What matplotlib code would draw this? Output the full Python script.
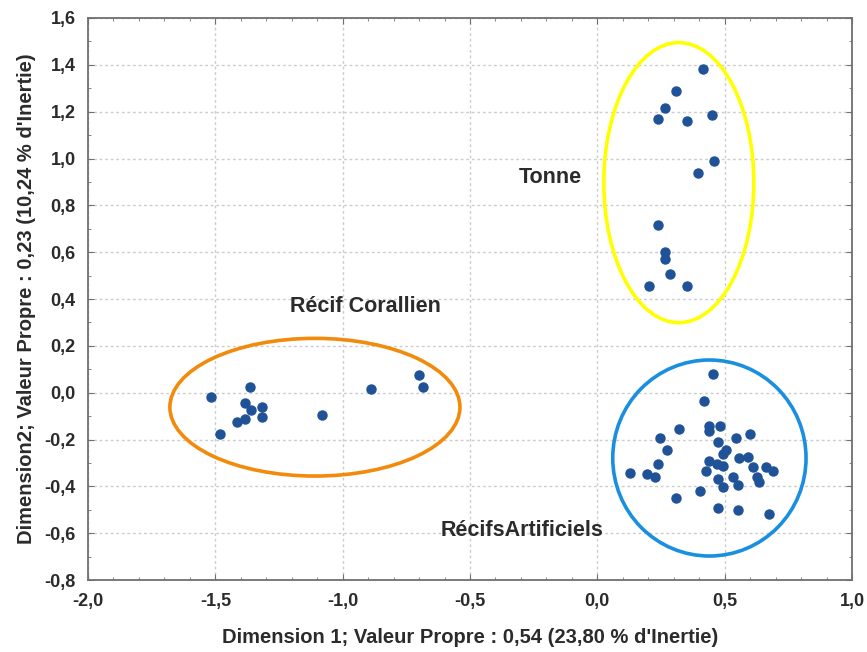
import matplotlib.pyplot as plt
from matplotlib.patches import Ellipse
from matplotlib.ticker import MultipleLocator, FuncFormatter

plt.rcParams['font.family'] = ['Liberation Sans', 'DejaVu Sans']

# coordonnees des stations
tonne_x = [0.413, 0.309, 0.267, 0.237, 0.354, 0.452, 0.460, 0.397, 0.237,
           0.265, 0.265, 0.287, 0.203, 0.354]
tonne_y = [1.381, 1.290, 1.216, 1.170, 1.162, 1.187, 0.991, 0.937, 0.717,
           0.601, 0.570, 0.507, 0.456, 0.456]

recif_x = [-1.518, -1.364, -1.385, -1.361, -1.316, -1.316, -1.385, -1.414,
           -1.482, -1.082, -0.890, -0.702, -0.686]
recif_y = [-0.020, 0.026, -0.043, -0.074, -0.062, -0.105, -0.114, -0.125,
           -0.176, -0.094, 0.017, 0.074, 0.026]

artif_x = [0.454, 0.419, 0.320, 0.438, 0.438, 0.481, 0.246, 0.472, 0.543,
           0.599, 0.273, 0.505, 0.492, 0.557, 0.592, 0.238, 0.439, 0.468,
           0.492, 0.612, 0.661, 0.691, 0.127, 0.196, 0.225, 0.426, 0.534,
           0.625, 0.634, 0.472, 0.493, 0.551, 0.405, 0.309, 0.472, 0.551,
           0.674]
artif_y = [0.080, -0.034, -0.154, -0.142, -0.165, -0.141, -0.192, -0.212,
           -0.192, -0.176, -0.245, -0.245, -0.263, -0.280, -0.273, -0.303,
           -0.290, -0.304, -0.313, -0.318, -0.318, -0.333, -0.341, -0.347,
           -0.361, -0.336, -0.358, -0.358, -0.381, -0.370, -0.401, -0.395,
           -0.418, -0.448, -0.491, -0.501, -0.517]

# groupes : (centre x, centre y, largeur, hauteur)
groupes = {
    'Tonne': (0.320, 0.897, 0.589, 1.196),
    'Récif Corallien': (-1.109, -0.062, 1.139, 0.588),
    'RécifsArtificiels': (0.440, -0.279, 0.759, 0.837),
}
couleurs = {'Tonne': '#ffff00', 'Récif Corallien': '#f28a0c',
            'RécifsArtificiels': '#1a8fe0'}
etiquettes = {'Tonne': (-0.186, 0.917), 'Récif Corallien': (-0.912, 0.366),
              'RécifsArtificiels': (-0.296, -0.590)}

fig = plt.figure(figsize=(8.67, 6.52), dpi=100)
ax = fig.add_axes([0.1015, 0.1104, 0.8812, 0.862])

for nom, (cx, cy, w, h) in groupes.items():
    ax.add_patch(Ellipse((cx, cy), w, h, fill=False, lw=2.6,
                         edgecolor=couleurs[nom], zorder=2))
    tx, ty = etiquettes[nom]
    ax.text(tx, ty, nom, fontsize=15.5, fontweight='bold', color='#2b2b2b',
            ha='center', va='center', zorder=4)

for xs, ys in [(tonne_x, tonne_y), (recif_x, recif_y), (artif_x, artif_y)]:
    ax.plot(xs, ys, 'o', ms=6.5, color='#1f5296', mec='#1f5296', zorder=3)

ax.set_xlim(-2.0, 1.0)
ax.set_ylim(-0.8, 1.6)
ax.xaxis.set_major_locator(MultipleLocator(0.5))
ax.xaxis.set_minor_locator(MultipleLocator(0.1))
ax.yaxis.set_major_locator(MultipleLocator(0.2))
ax.yaxis.set_minor_locator(MultipleLocator(0.1))
virgule = FuncFormatter(lambda v, p: f'{v:.1f}'.replace('.', ',').replace('-0,0', '0,0'))
ax.xaxis.set_major_formatter(virgule)
ax.yaxis.set_major_formatter(virgule)
ax.tick_params(which='both', direction='in', top=True, right=True,
               color='#707070')
ax.tick_params(which='major', length=4, labelsize=13, pad=9,
               labelcolor='#2b2b2b')
ax.tick_params(which='minor', length=2.5)
for lab in ax.get_xticklabels() + ax.get_yticklabels():
    lab.set_fontweight('bold')
for s in ax.spines.values():
    s.set_color('#707070')
    s.set_linewidth(1.3)
ax.grid(True, which='major', color='#cccccc', ls=(0, (2, 2)), lw=1.0, zorder=0)

ax.set_xlabel("Dimension 1; Valeur Propre : 0,54 (23,80 % d'Inertie)",
              fontsize=14.5, fontweight='bold', color='#2b2b2b', labelpad=13)
ax.set_ylabel("Dimension2; Valeur Propre : 0,23 (10,24 % d'Inertie)",
              fontsize=14.5, fontweight='bold', color='#2b2b2b', labelpad=6)

fig.savefig('out.png', dpi=100)
